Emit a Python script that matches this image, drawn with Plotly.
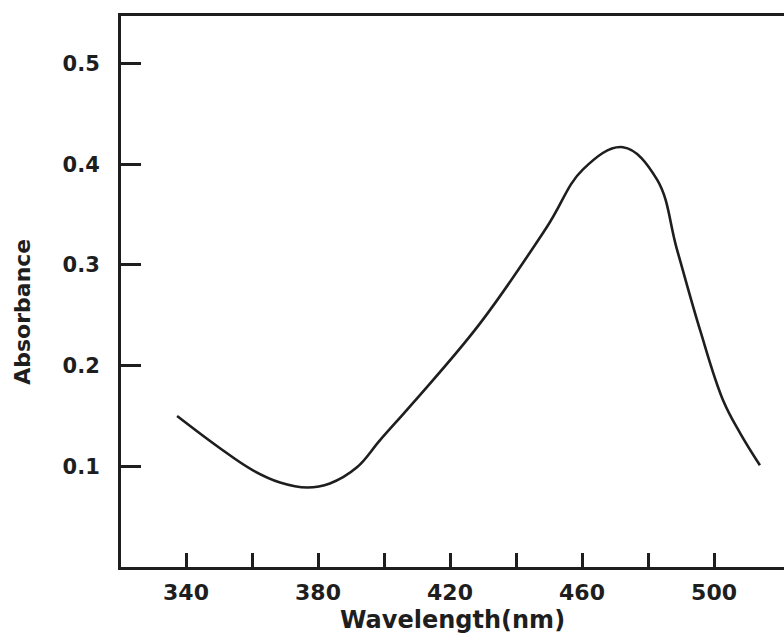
import plotly.graph_objects as go

wavelength = [337.3, 350.3, 360.3, 368.5, 376.7, 383.6, 391.8, 398.8, 408.8, 429.1,
              449.4, 460.3, 472.4, 482.7, 488.8, 495.8, 502.7, 507.9, 513.9]
absorbance = [0.150, 0.118, 0.096, 0.084, 0.079, 0.083, 0.099, 0.126, 0.163, 0.242,
              0.338, 0.395, 0.417, 0.385, 0.315, 0.235, 0.166, 0.133, 0.101]

x_tickvals = [340, 360, 380, 400, 420, 440, 460, 480, 500]
x_ticktext = ["340", "", "380", "", "420", "", "460", "", "500"]
y_tickvals = [0.1, 0.2, 0.3, 0.4, 0.5]
y_ticktext = ["0.1", "0.2", "0.3", "0.4", "0.5"]

ink = "#1e1e1e"
font_family = "DejaVu Sans"

fig = go.Figure()
fig.add_trace(go.Scatter(
    x=wavelength, y=absorbance, mode="lines",
    line=dict(color=ink, width=2.6, shape="spline", smoothing=1.1),
    showlegend=False, hoverinfo="skip"))

fig.update_layout(
    width=784, height=635,
    margin=dict(l=121, r=0, t=16, b=68),
    paper_bgcolor="white", plot_bgcolor="white",
    font=dict(family=font_family, color=ink),
    xaxis=dict(range=[320.3, 521.2], tickvals=x_tickvals, ticktext=x_ticktext,
               ticks="inside", ticklen=14, tickwidth=2.5, tickcolor=ink,
               showline=True, linecolor=ink, linewidth=3, mirror=True,
               showgrid=False, zeroline=False,
               tickfont=dict(size=22, family=font_family, color=ink, weight="bold"),
               ticklabelstandoff=4),
    yaxis=dict(range=[0, 0.5473], tickvals=y_tickvals, ticktext=y_ticktext,
               ticks="inside", ticklen=20, tickwidth=2.5, tickcolor=ink,
               showline=True, linecolor=ink, linewidth=3,
               showgrid=False, zeroline=False,
               tickfont=dict(size=21, family=font_family, color=ink, weight="bold"),
               ticklabelstandoff=14),
    annotations=[
        dict(text="Wavelength(nm)", xref="paper", yref="paper", x=0.5, y=-0.096,
             xanchor="center", yanchor="middle", showarrow=False,
             font=dict(size=24, family=font_family, color=ink, weight="bold")),
        dict(text="Absorbance", xref="paper", yref="paper", x=-0.148, y=0.463,
             xanchor="center", yanchor="middle", showarrow=False, textangle=-90,
             font=dict(size=22, family=font_family, color=ink, weight="bold")),
    ],
)

fig.write_html("out.html")
